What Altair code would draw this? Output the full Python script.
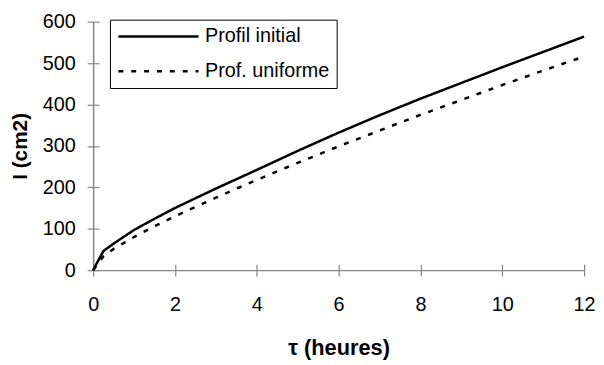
import altair as alt
import pandas as pd

hours = [0, 0.25, 0.5, 1, 1.5, 2, 3, 4, 5, 6, 7, 8, 9, 10, 11, 12]
profil_initial = [0, 46, 64, 97, 124, 150, 197, 242, 288, 332, 374, 414, 452, 490, 527, 564]
prof_uniforme = [0, 33, 51, 80, 106, 130, 175, 218, 259, 299, 337, 375, 411, 447, 482, 516]
series_names = ["Profil initial", "Prof. uniforme"]
x_ticks = [0, 2, 4, 6, 8, 10, 12]
y_ticks = [0, 100, 200, 300, 400, 500, 600]

rows = []
for name, vals in zip(series_names, [profil_initial, prof_uniforme]):
    for h, v in zip(hours, vals):
        rows.append({"t": h, "I": v, "serie": name})
df = pd.DataFrame(rows)

FONT = "Liberation Sans"
GREY = "#868686"

xscale = alt.Scale(domain=[0, 12], nice=False)
yscale = alt.Scale(domain=[0, 600], nice=False)

lines = alt.Chart(df).mark_line(strokeWidth=2.5, color="black").encode(
    x=alt.X("t:Q", scale=xscale,
            axis=alt.Axis(orient="bottom", values=x_ticks, title="τ (heures)", grid=False,
                          domainColor=GREY, domainWidth=1.5, tickColor=GREY,
                          tickWidth=1.2, tickSize=6, labelPadding=19, labelFlush=False,
                          labelFontSize=20, labelFont=FONT, labelColor="black",
                          titleFont=FONT, titleFontSize=22, titleFontWeight="bold",
                          titleColor="black", titlePadding=23)),
    y=alt.Y("I:Q", scale=yscale,
            axis=alt.Axis(orient="left", values=y_ticks, title="I (cm2)", grid=False,
                          domainColor=GREY, domainWidth=1.5, tickColor=GREY,
                          tickWidth=1.2, tickSize=6, labelPadding=12, labelFlush=False,
                          labelFontSize=20, labelFont=FONT, labelColor="black",
                          titleFont=FONT, titleFontSize=21, titleFontWeight="bold",
                          titleColor="black", titlePadding=12)),
    strokeDash=alt.StrokeDash(
        "serie:N",
        scale=alt.Scale(domain=series_names, range=[[1, 0], [5, 8]]),
        legend=alt.Legend(
            title=None, orient="none", legendX=17, legendY=-2,
            strokeColor="black", fillColor="white", padding=7,
            symbolType="stroke", symbolSize=6561, symbolStrokeWidth=2.5,
            symbolStrokeColor="black", clipHeight=20, rowPadding=15,
            labelFontSize=20, labelFont=FONT, labelColor="black", labelOffset=5,
        ),
    ),
    order=alt.Order("t:Q"),
)

inner_ticks = alt.Chart(df).mark_point(opacity=0).encode(
    x=alt.X("t:Q", scale=xscale,
            axis=alt.Axis(values=x_ticks, orient="bottom", offset=-6, title=None,
                          labels=False, domain=False, grid=False,
                          tickColor=GREY, tickWidth=1.2, tickSize=6)),
    y=alt.Y("I:Q", scale=yscale,
            axis=alt.Axis(values=y_ticks, orient="left", offset=-6, title=None,
                          labels=False, domain=False, grid=False,
                          tickColor=GREY, tickWidth=1.2, tickSize=6)),
)

chart = alt.layer(inner_ticks, lines).resolve_axis(
    x="independent", y="independent"
).properties(
    width=496, height=251,
    autosize=alt.AutoSizeParams(type="none"),
    padding={"left": 86, "top": 12, "right": 12, "bottom": 92},
    background="white",
).configure_view(stroke=None)

chart.save("out.html", embed_options={"renderer": "svg", "actions": False})
